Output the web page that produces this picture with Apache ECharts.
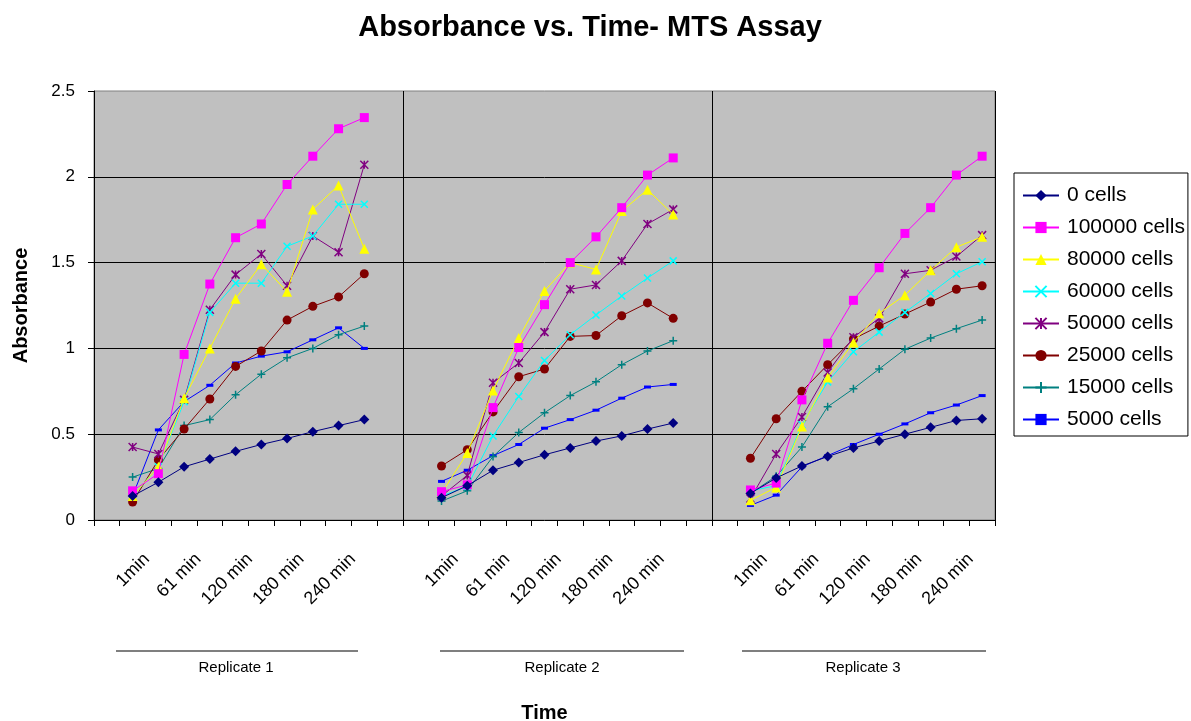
<!DOCTYPE html>
<html>
<head>
<meta charset="utf-8">
<script src="https://cdn.jsdelivr.net/npm/echarts@6/dist/echarts.min.js"></script>
<style>
html,body{margin:0;padding:0;background:#fff;}
#main{width:1191px;height:721px;}
</style>
</head>
<body>
<div id="main"></div>
<script>
// ---- data ----
var replicates = ['Replicate 1', 'Replicate 2', 'Replicate 3'];
var timeLabels = ['1min', '30 min', '61 min', '90 min', '120 min', '150 min', '180 min', '210 min', '240 min', '270 min'];
var shownLabels = ['1min', '61 min', '120 min', '180 min', '240 min'];
var seriesNames = ['0 cells', '100000 cells', '80000 cells', '60000 cells', '50000 cells', '25000 cells', '15000 cells', '5000 cells'];

// values per series: [replicate1, replicate2, replicate3]
var cells0 = [
  [0.14, 0.22, 0.31, 0.355, 0.40, 0.44, 0.475, 0.515, 0.55, 0.585],
  [0.13, 0.20, 0.29, 0.335, 0.38, 0.42, 0.46, 0.49, 0.53, 0.565],
  [0.155, 0.245, 0.315, 0.37, 0.42, 0.46, 0.50, 0.54, 0.58, 0.59]
];
var cells100000 = [
  [0.17, 0.27, 0.965, 1.375, 1.645, 1.725, 1.955, 2.12, 2.28, 2.345],
  [0.165, 0.205, 0.655, 1.005, 1.255, 1.50, 1.65, 1.82, 2.01, 2.11],
  [0.175, 0.215, 0.70, 1.03, 1.28, 1.47, 1.67, 1.82, 2.01, 2.12]
];
var cells80000 = [
  [0.14, 0.31, 0.71, 1.00, 1.29, 1.49, 1.33, 1.81, 1.95, 1.58],
  [0.155, 0.39, 0.755, 1.06, 1.335, 1.50, 1.46, 1.80, 1.925, 1.78],
  [0.115, 0.19, 0.545, 0.83, 1.035, 1.205, 1.31, 1.455, 1.59, 1.65]
];
var cells60000 = [
  [0.14, 0.31, 0.69, 1.21, 1.38, 1.38, 1.595, 1.655, 1.84, 1.84],
  [0.14, 0.195, 0.49, 0.72, 0.93, 1.08, 1.195, 1.305, 1.41, 1.51],
  [0.17, 0.20, 0.555, 0.805, 0.98, 1.095, 1.21, 1.32, 1.435, 1.505]
];
var cells50000 = [
  [0.425, 0.385, 0.70, 1.225, 1.43, 1.55, 1.365, 1.655, 1.56, 2.07],
  [0.14, 0.26, 0.80, 0.915, 1.095, 1.345, 1.37, 1.51, 1.725, 1.81],
  [0.125, 0.385, 0.60, 0.86, 1.065, 1.175, 1.435, 1.455, 1.535, 1.66]
];
var cells25000 = [
  [0.105, 0.35, 0.53, 0.705, 0.895, 0.985, 1.165, 1.245, 1.30, 1.435],
  [0.315, 0.41, 0.63, 0.835, 0.88, 1.07, 1.075, 1.19, 1.265, 1.175],
  [0.36, 0.59, 0.75, 0.905, 1.055, 1.13, 1.20, 1.27, 1.345, 1.365]
];
var cells15000 = [
  [0.25, 0.30, 0.55, 0.585, 0.73, 0.85, 0.945, 1.00, 1.08, 1.13],
  [0.11, 0.17, 0.37, 0.51, 0.625, 0.725, 0.805, 0.905, 0.985, 1.045],
  [0.155, 0.255, 0.425, 0.66, 0.765, 0.88, 0.995, 1.06, 1.115, 1.165]
];
var cells5000 = [
  [0.14, 0.525, 0.69, 0.785, 0.915, 0.955, 0.98, 1.05, 1.12, 1.00],
  [0.225, 0.29, 0.375, 0.44, 0.535, 0.585, 0.64, 0.71, 0.775, 0.79],
  [0.085, 0.145, 0.31, 0.375, 0.44, 0.50, 0.56, 0.625, 0.67, 0.725]
];
var seriesValues = [cells0, cells100000, cells80000, cells60000, cells50000, cells25000, cells15000, cells5000];

// ---- build category axis: blank slot before each replicate, blank after reps 1 and 2 ----
var categories = [];
var repStart = [];
replicates.forEach(function (r, ri) {
  categories.push('');
  repStart.push(categories.length);
  timeLabels.forEach(function (t) { categories.push(t); });
  if (ri < replicates.length - 1) categories.push('');
});
function buildData(vals) {
  var arr = categories.map(function () { return null; });
  vals.forEach(function (rep, ri) {
    rep.forEach(function (v, i) { arr[repStart[ri] + i] = v; });
  });
  return arr;
}
var boundaryIdx = [repStart[1] - 1, repStart[2] - 1]; // blank slots starting replicate 2 and 3

// ---- styles ----
var FONT = 'Arial, "Liberation Sans", sans-serif';
var styles = [
  { color: '#000080', symbol: 'diamond', size: 10 },
  { color: '#FF00FF', symbol: 'rect', size: 9 },
  { color: '#FFFF00', symbol: 'triangle', size: 10 },
  { color: '#00FFFF', symbol: 'path://M0,0L10,10M0,10L10,0', size: 7, stroke: true },
  { color: '#800080', symbol: 'path://M0,0L10,10M0,10L10,0M5,0L5,10', size: 8, stroke: true },
  { color: '#800000', symbol: 'circle', size: 9 },
  { color: '#008080', symbol: 'path://M5,0L5,10M2,5L8,5', size: 8, stroke: true },
  { color: '#0000FF', symbol: 'rect', size: [7, 3] }
];

var series = seriesNames.map(function (name, i) {
  var st = styles[i];
  return {
    name: name,
    type: 'line',
    data: buildData(seriesValues[i]),
    connectNulls: false,
    symbol: st.symbol,
    symbolSize: st.size,
    showAllSymbol: true,
    lineStyle: { color: st.color, width: 1 },
    itemStyle: st.stroke ? { color: st.color, borderColor: st.color, borderWidth: 1.5 } : { color: st.color, borderWidth: 0 },
    emphasis: { disabled: true },
    animation: false,
    z: 10 - i
  };
});

var chart = echarts.init(document.getElementById('main'), null, { renderer: 'canvas' });
var option = {
  backgroundColor: '#ffffff',
  animation: false,
  title: {
    text: 'Absorbance vs. Time- MTS Assay',
    left: 585, top: 8, textAlign: 'center',
    textStyle: { fontFamily: FONT, fontSize: 29, fontWeight: 'bold', color: '#000' }
  },
  grid: {
    left: 94, top: 91, right: 196, bottom: 201,
    outerBoundsMode: 'none',
    containLabel: false,
    show: true, backgroundColor: '#C0C0C0', borderColor: '#808080', borderWidth: 1
  },
  legend: {
    orient: 'vertical',
    left: 1014, top: 173,
    data: seriesNames,
    itemWidth: 36, itemHeight: 14, itemGap: 11,
    padding: [12, 3, 6, 8],
    borderColor: '#000', borderWidth: 1,
    backgroundColor: '#fff',
    textStyle: { fontFamily: FONT, fontSize: 21, color: '#000', padding: [0, 0, 0, 3] }
  },
  xAxis: {
    type: 'category',
    data: categories,
    boundaryGap: true,
    name: 'Time',
    nameLocation: 'middle',
    nameGap: 183,
    nameTextStyle: { fontFamily: FONT, fontSize: 20, fontWeight: 'bold', color: '#000' },
    axisLine: { lineStyle: { color: '#000', width: 1 } },
    axisTick: { show: true, interval: 0, length: 6, lineStyle: { color: '#000' } },
    axisLabel: {
      interval: function (idx, val) { return shownLabels.indexOf(val) >= 0; },
      rotate: 45,
      margin: 1,
      align: 'right',
      verticalAlign: 'top',
      padding: [26, 15, 0, 0],
      fontFamily: FONT, fontSize: 18, color: '#000'
    },
    splitLine: {
      show: true,
      interval: function (idx) { return boundaryIdx.indexOf(idx) >= 0; },
      lineStyle: { color: '#000', width: 1 }
    }
  },
  yAxis: {
    type: 'value',
    min: 0, max: 2.5, interval: 0.5,
    name: 'Absorbance',
    nameLocation: 'middle',
    nameGap: 63,
    nameTextStyle: { fontFamily: FONT, fontSize: 20, fontWeight: 'bold', color: '#000' },
    axisLine: { show: true, lineStyle: { color: '#000', width: 1 } },
    axisTick: { show: true, length: 6, lineStyle: { color: '#000' } },
    axisLabel: { margin: 19, fontFamily: FONT, fontSize: 17, color: '#000' },
    splitLine: { show: true, showMinLine: false, showMaxLine: false, lineStyle: { color: '#000', width: 1 } }
  },
  series: series
};
chart.setOption(option);

// replicate group labels beneath the time labels
var repLines = [[116, 358], [440, 684], [742, 986]];
var repTextX = [236, 562, 863];
var g = [];
replicates.forEach(function (r, i) {
  g.push({ type: 'line', shape: { x1: repLines[i][0], y1: 651, x2: repLines[i][1], y2: 651 }, style: { stroke: '#555', lineWidth: 1.5 }, silent: true });
  g.push({ type: 'text', x: repTextX[i], y: 668, style: { text: r, fill: '#000', font: '15px ' + FONT, textAlign: 'center', textVerticalAlign: 'middle' }, silent: true });
});
chart.setOption({ graphic: g });
</script>
</body>
</html>
